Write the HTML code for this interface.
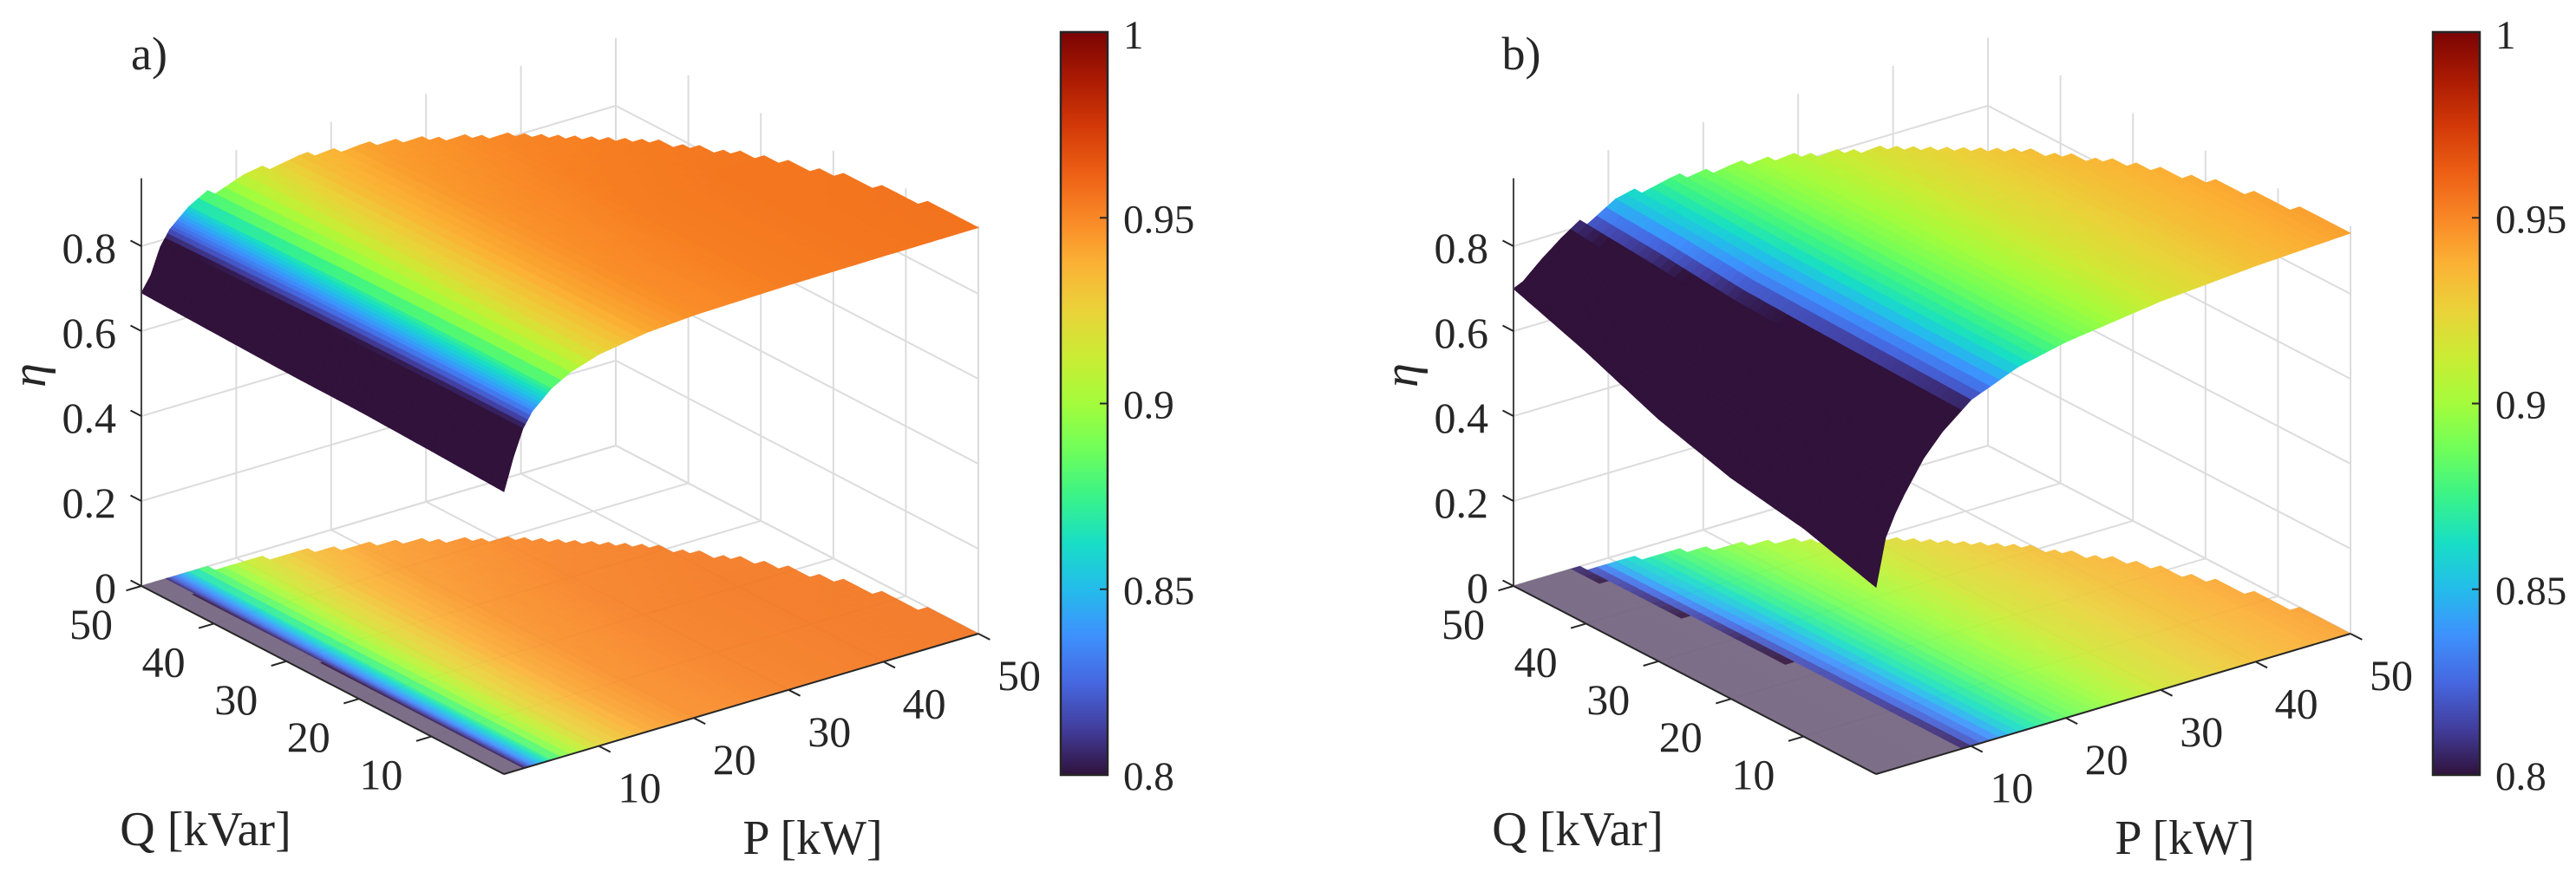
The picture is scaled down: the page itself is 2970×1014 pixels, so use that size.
<!DOCTYPE html>
<html><head><meta charset="utf-8"><style>
html,body{margin:0;padding:0;background:#fff;}
svg{display:block;}
text{font-family:"Liberation Serif","Times New Roman",serif;}
</style></head><body>
<svg id="fig" width="2970" height="1014" viewBox="0 0 2970 1014" xmlns="http://www.w3.org/2000/svg"></svg>
<script>
// ---- data ----
const pGrid = [0,1,2,3,5,7,10,15,20,30,40,50];
const qGrid = [0,10,20,30,40,50];
const etaA = [
 [0.665,0.74,0.80,0.835,0.875,0.90,0.922,0.94,0.948,0.953,0.955,0.956],
 [0.672,0.74,0.80,0.835,0.875,0.90,0.922,0.94,0.948,0.953,0.955,0.956],
 [0.678,0.738,0.798,0.833,0.873,0.898,0.92,0.939,0.947,0.953,0.955,0.955],
 [0.68,0.735,0.795,0.83,0.87,0.895,0.918,0.937,0.946,0.952,0.954,0.954],
 [0.685,0.73,0.79,0.825,0.865,0.89,0.915,0.935,0.944,0.95,0.953,0.953],
 [0.69,0.725,0.785,0.82,0.86,0.885,0.91,0.93,0.94,0.948,0.951,0.952]
];
const etaB = [
 [0.44,0.55,0.60,0.64,0.71,0.76,0.815,0.86,0.885,0.915,0.932,0.943],
 [0.49,0.56,0.61,0.65,0.715,0.765,0.82,0.862,0.886,0.915,0.932,0.943],
 [0.52,0.58,0.63,0.67,0.725,0.77,0.825,0.865,0.888,0.916,0.932,0.943],
 [0.57,0.61,0.65,0.69,0.74,0.78,0.83,0.868,0.89,0.917,0.933,0.943],
 [0.64,0.66,0.69,0.72,0.76,0.80,0.845,0.874,0.893,0.918,0.934,0.944],
 [0.70,0.71,0.73,0.75,0.785,0.815,0.855,0.88,0.897,0.92,0.935,0.945]
];
const zTicks = [0,0.2,0.4,0.6,0.8];
const zTickLabels = ["0","0.2","0.4","0.6","0.8"];
const pTicks = [10,20,30,40,50];
const qTicks = [10,20,30,40,50];
const cbTicks = [0.8,0.85,0.9,0.95,1];
const cbTickLabels = ["0.8","0.85","0.9","0.95","1"];
const panelLabels = ["a)","b)"];

// ---- colormap (turbo), clim 0.8..1 ----
const cmap = [[48,18,59],[66,62,158],[70,104,225],[62,145,253],[36,188,235],[24,222,197],[58,243,136],[111,254,90],[164,252,60],[202,236,52],[234,210,57],[251,178,53],[249,135,38],[236,94,20],[210,56,8],[170,26,3],[122,4,3]];
function color(v){
  let t=(v-0.8)/0.2; t=Math.max(0,Math.min(1,t));
  const f=t*(cmap.length-1), i=Math.min(cmap.length-2,Math.floor(f)), r=f-i;
  const c=cmap[i].map((a,k)=>Math.round(a+(cmap[i+1][k]-a)*r));
  return `rgb(${c[0]},${c[1]},${c[2]})`;
}
function interp1(arr,x){
  for(let i=0;i<arr.length-1;i++){ if(x<=arr[i+1]) return [i,(x-arr[i])/(arr[i+1]-arr[i])]; }
  return [arr.length-2,1];
}
function etaAt(grid,P,Q){
  const [i,a]=interp1(pGrid,P), [j,b]=interp1(qGrid,Q);
  const v00=grid[j][i],v01=grid[j][i+1],v10=grid[j+1][i],v11=grid[j+1][i+1];
  return (v00*(1-a)+v01*a)*(1-b)+(v10*(1-a)+v11*a)*b;
}

const NS="http://www.w3.org/2000/svg";
const svg=document.getElementById('fig');
function el(tag,attrs,parent){const e=document.createElementNS(NS,tag);for(const k in attrs)e.setAttribute(k,attrs[k]);(parent||svg).appendChild(e);return e;}

// mesh subdivision (rendering resolution only)
const pEdges=[]; for(let p=0;p<5;p+=0.25)pEdges.push(p); for(let p=5;p<=50;p+=1)pEdges.push(p);
const qEdges=[]; for(let q=0;q<=50;q+=1)qEdges.push(q);

const ZMAX=0.96;
function drawPanel(ox, grid, idx){
  const g=el('g',{});
  
  
  const X=(P,Q)=>ox+581+P*10.94-Q*8.36;
  const Y=(P,Q,z)=>893-P*3.24-Q*4.34-z*490;
  const line=(p1,p2,stroke,w,name)=>{const l=el('line',{x1:X(p1[0],p1[1]).toFixed(1),y1:Y(p1[0],p1[1],p1[2]).toFixed(1),x2:X(p2[0],p2[1]).toFixed(1),y2:Y(p2[0],p2[1],p2[2]).toFixed(1),stroke:stroke,'stroke-width':w},g);
    
    return l;};
  const GC='#dcdcdc';
  for(const p of pTicks.slice(0,-1)) line([p,0,0],[p,50,0],GC,2,'floor-grid-p');
  for(const q of qTicks.slice(0,-1)) line([0,q,0],[50,q,0],GC,2,'floor-grid-q');
  for(const z of zTicks.concat([0])){ line([0,50,z],[50,50,z],GC,2,'wall-grid-z'); line([50,50,z],[50,0,z],GC,2,'wall-grid-z'); }
  for(const p of pTicks) line([p,50,0],[p,50,ZMAX],GC,2,'wall-grid-p');
  for(const q of [0].concat(qTicks.slice(0,-1))) line([50,q,0],[50,q,ZMAX],GC,2,'wall-grid-q');

  const cells=[];
  for(let i=0;i<pEdges.length-1;i++)for(let j=0;j<qEdges.length-1;j++){
    const P0=pEdges[i],P1=pEdges[i+1],Q0=qEdges[j],Q1=qEdges[j+1];
    const pc=(P0+P1)/2,qc=(Q0+Q1)/2;
    if(pc*pc+qc*qc>2500) continue;
    cells.push([P0,P1,Q0,Q1]);
  }
  const depth=c=>(c[0]+c[1])*3.24+(c[2]+c[3])*4.34;
  cells.sort((a,b)=>depth(b)-depth(a));
  const floor=el('g',{opacity:'0.92'},g);
  
  
  const surf=el('g',{},g);
  
  
  for(const [P0,P1,Q0,Q1] of cells){
    const pts=[[P0,Q0],[P1,Q0],[P1,Q1],[P0,Q1]];
    const zs=pts.map(p=>etaAt(grid,p[0],p[1]));
    const v=etaAt(grid,(P0+P1)/2,(Q0+Q1)/2);
    const c=color(v);
    const fc=v<0.8?'#73637f':c;
    el('polygon',{points:pts.map(p=>X(p[0],p[1]).toFixed(1)+','+Y(p[0],p[1],0).toFixed(1)).join(' '),fill:fc,stroke:fc,'stroke-width':'0.8'},floor);
    el('polygon',{points:pts.map((p,k)=>X(p[0],p[1]).toFixed(1)+','+Y(p[0],p[1],zs[k]).toFixed(1)).join(' '),fill:c,stroke:c,'stroke-width':'0.8'},surf);
  }
  const AC='#262626';
  line([0,0,0],[0,50,0],AC,2,'q-axis');
  line([0,0,0],[50,0,0],AC,2,'p-axis');
  line([0,50,0],[0,50,ZMAX],'#444',2,'z-axis');
  const txt=(x,y,s,size,anchor,name,extra)=>{const t=el('text',Object.assign({x:x.toFixed(1),y:y.toFixed(1),'font-size':size,'text-anchor':anchor,'dominant-baseline':'central',fill:'#262626','font-family':'Liberation Serif, serif'},extra||{}),g);t.textContent=s;
    
    return t;};
  zTicks.forEach((z,i)=>{ line([0,50,z],[0,51.5,z],AC,2,'z-tick'); txt(X(0,50)-29,Y(0,50,z)+2,zTickLabels[i],50,'end','z-tick-label'); });
  qTicks.forEach(q=>{ line([0,q,0],[-1.6,q,0],AC,2,'q-tick'); txt(X(0,q)-58,Y(0,q,0)+44,String(q),50,'middle','q-tick-label'); });
  pTicks.forEach(p=>{ line([p,0,0],[p,-1.6,0],AC,2,'p-tick'); txt(X(p,0)+47,Y(p,0,0)+48,String(p),50,'middle','p-tick-label'); });
  txt(ox+237,957,'Q [kVar]',56,'middle','q-axis-title');
  txt(ox+937,967,'P [kW]',56,'middle','p-axis-title');
  txt(ox+34,433,'η',56,'middle','z-axis-title',{'font-style':'italic',transform:`rotate(-90 ${ox+34} 433)`});
  txt(ox+172,62,panelLabels[idx],54,'middle','panel-label');
  const cbx=ox+1223, cbTop=37, cbBot=894, cbW=54;
  const cbY=v=>cbBot-(v-0.8)/0.2*(cbBot-cbTop);
  const defs=el('defs',{},g);
  const lg=el('linearGradient',{id:'cbg'+idx,x1:'0',y1:'1',x2:'0',y2:'0'},defs);
  cmap.forEach((c,i)=>el('stop',{offset:(i/(cmap.length-1)).toFixed(4),'stop-color':`rgb(${c[0]},${c[1]},${c[2]})`},lg));
  const r=el('rect',{x:cbx,y:cbTop,width:cbW,height:cbBot-cbTop,fill:`url(#cbg${idx})`,stroke:'#262626','stroke-width':2.5},g);
  
  
  cbTicks.forEach((v,i)=>{
    const t=el('line',{x1:cbx+cbW-9,x2:cbx+cbW,y1:cbY(v),y2:cbY(v),stroke:'#262626','stroke-width':2},g);
    
    
    txt(cbx+cbW+18,cbY(v)+(v===1?4:2),cbTickLabels[i],47,'start','colorbar-tick-label');
  });
}
drawPanel(0,etaA,0);
drawPanel(1582,etaB,1);
</script>
</body></html>
